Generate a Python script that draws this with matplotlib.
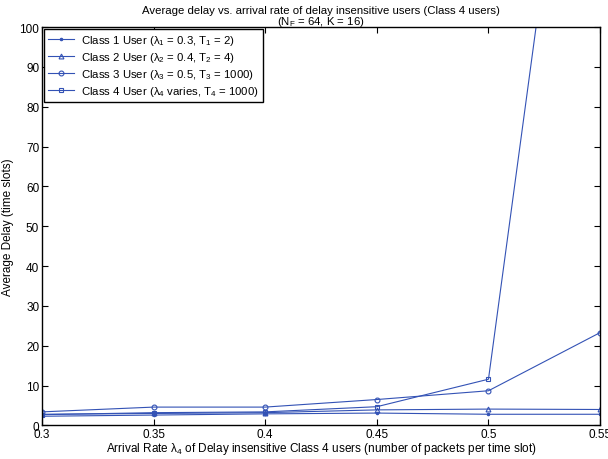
import matplotlib
matplotlib.use("Agg")
import matplotlib.pyplot as plt

plt.rcParams['font.family'] = ['Liberation Sans', 'DejaVu Sans']
plt.rcParams['mathtext.fontset'] = 'custom'
plt.rcParams['mathtext.rm'] = 'Liberation Sans'
plt.rcParams['mathtext.it'] = 'Liberation Sans'
plt.rcParams['mathtext.default'] = 'regular'

x = [0.3, 0.35, 0.4, 0.45, 0.5, 0.55]
class1 = [2.3, 2.6, 2.9, 3.1, 2.8, 2.8]
class2 = [2.8, 3.0, 3.2, 3.9, 4.1, 4.0]
class3 = [3.4, 4.6, 4.6, 6.5, 8.7, 23.3]
class4 = [2.7, 3.2, 3.4, 4.7, 11.6, 219.0]

labels = [r'Class 1 User ($\lambda_1$ = 0.3, T$_1$ = 2)',
          r'Class 2 User ($\lambda_2$ = 0.4, T$_2$ = 4)',
          r'Class 3 User ($\lambda_3$ = 0.5, T$_3$ = 1000)',
          r'Class 4 User ($\lambda_4$ varies, T$_4$ = 1000)']
xticklabels = ['0.3', '0.35', '0.4', '0.45', '0.5', '0.55']
yticks = [0, 10, 20, 30, 40, 50, 60, 70, 80, 90, 100]

color = '#3352b5'
fig = plt.figure(figsize=(6.08, 4.6), dpi=100)
ax = fig.add_axes([0.069, 0.073, 0.918, 0.866])

series = [class1, class2, class3, class4]
markers = ['.', '^', 'o', 's']
msizes = [3.5, 3.5, 3.5, 3.5]
for s, m, ms, lab in zip(series, markers, msizes, labels):
    ax.plot(x, s, color=color, lw=0.8, marker=m, markersize=ms,
            markerfacecolor='none' if m != '.' else color,
            markeredgecolor=color, markeredgewidth=0.8, label=lab)

ax.set_xlim(0.3, 0.55)
ax.set_ylim(0, 100)
ax.set_xticks(x)
ax.set_xticklabels(xticklabels)
ax.set_yticks(yticks)
ax.tick_params(direction='in', top=True, right=True, length=4, width=0.8,
               labelsize=8.5, pad=2)
for sp in ax.spines.values():
    sp.set_linewidth(1.0)

ax.set_title('Average delay vs. arrival rate of delay insensitive users (Class 4 users)\n'
             r'(N$_F$ = 64, K = 16)', fontsize=8.2, linespacing=0.9, pad=2)
ax.set_xlabel(r'Arrival Rate $\lambda_4$ of Delay insensitive Class 4 users (number of packets per time slot)',
              fontsize=8.5, labelpad=0)
ax.set_ylabel('Average Delay (time slots)', fontsize=8.5, labelpad=4)

leg = ax.legend(loc='upper left', fontsize=8.2, fancybox=False, frameon=True,
                borderaxespad=0.2, handlelength=2.3, labelspacing=0.25,
                borderpad=0.35, handletextpad=0.6)
leg.get_frame().set_edgecolor('black')
leg.get_frame().set_linewidth(1.0)
leg.get_frame().set_alpha(1)

fig.savefig('out.png', dpi=100)
